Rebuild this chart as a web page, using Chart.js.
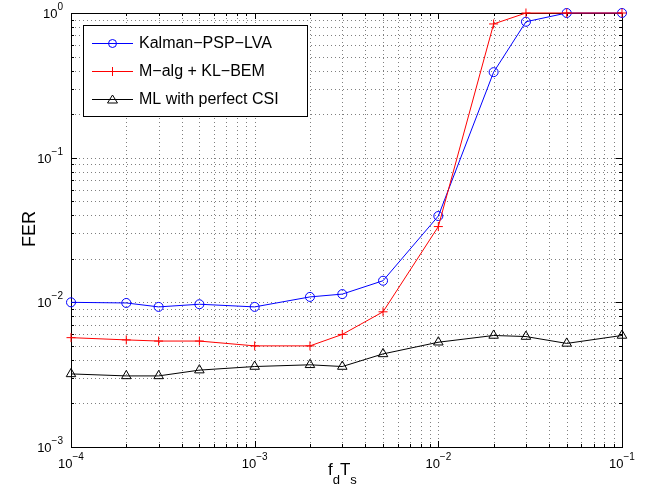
<!DOCTYPE html>
<html>
<head>
<meta charset="utf-8">
<script src="https://cdn.jsdelivr.net/npm/chart.js@4/dist/chart.umd.min.js"></script>
<style>
  html, body { margin: 0; padding: 0; background: #fff; }
  #wrap { width: 652px; height: 500px; }
</style>
</head>
<body>
<div id="wrap"><canvas id="fer"></canvas></div>
<script>
// normalized Doppler f_d*T_s
const fdTs = [1e-4, 2e-4, 3e-4, 5e-4, 1e-3, 2e-3, 3e-3, 5e-3, 1e-2, 2e-2, 3e-2, 5e-2, 1e-1];

const kalmanFER = [0.0100, 0.0099, 0.0093, 0.0097, 0.0093, 0.0109, 0.0114, 0.0141, 0.0395, 0.39, 0.87, 1.0, 1.0];
const malgFER   = [0.0057, 0.0055, 0.0054, 0.0054, 0.0050, 0.0050, 0.0060, 0.0086, 0.0334, 0.84, 1.0, 1.0, 1.0];
const mlFER     = [0.0032, 0.0031, 0.0031, 0.0034, 0.0036, 0.0037, 0.0036, 0.0044, 0.0053, 0.0059, 0.0058, 0.0052, 0.0059];

const seriesNames = ['Kalman\u2212PSP\u2212LVA', 'M\u2212alg + KL\u2212BEM', 'ML with perfect CSI'];

// decades and their labels (10^exp)
const xMajor = [1e-4, 1e-3, 1e-2, 1e-1];
const xExp = ['\u22124', '\u22123', '\u22122', '\u22121'];
const yMajor = [1e-3, 1e-2, 1e-1, 1];
const yExp = ['\u22123', '\u22122', '\u22121', '0'];
const minorSteps = [2, 3, 4, 5, 6, 7, 8, 9];

const withMinor = (majors) => {
    const out = [];
    majors.forEach((m, i) => {
        out.push(m);
        if (i < majors.length - 1) minorSteps.forEach(s => out.push(m * s));
    });
    return out;
};

const FONT = '"Liberation Sans", Arial, Helvetica, sans-serif';

const drawPow = (ctx, exp, x, y, align) => {
    ctx.font = '13px ' + FONT;
    const wb = ctx.measureText('10').width;
    ctx.font = '10px ' + FONT;
    const we = ctx.measureText(exp).width;
    const total = wb + we;
    const start = align === 'center' ? x - total / 2 : x - total;
    ctx.textAlign = 'left';
    ctx.textBaseline = 'alphabetic';
    ctx.font = '13px ' + FONT;
    ctx.fillText('10', start, y);
    ctx.font = '10px ' + FONT;
    ctx.fillText(exp, start + wb, y - 8);
};

const marker = (ctx, style, x, y, color) => {
    ctx.save();
    ctx.strokeStyle = color;
    ctx.lineWidth = 1;
    ctx.beginPath();
    if (style === 'circle') {
        ctx.arc(x, y, 4, 0, Math.PI * 2);
    } else if (style === 'cross') {
        ctx.moveTo(x - 4.5, y); ctx.lineTo(x + 4.5, y);
        ctx.moveTo(x, y - 4.5); ctx.lineTo(x, y + 4.5);
    } else {
        ctx.moveTo(x, y - 4.5); ctx.lineTo(x + 5, y + 3.5); ctx.lineTo(x - 5, y + 3.5); ctx.closePath();
    }
    ctx.stroke();
    ctx.restore();
};

const matlabAxes = {
    id: 'matlabAxes',
    beforeDatasetsDraw(chart) {
        const {ctx, chartArea: a, scales: {x, y}} = chart;
        ctx.save();
        // dotted grid
        ctx.strokeStyle = 'rgba(0,0,0,0.5)';
        ctx.lineWidth = 1;
        ctx.setLineDash([1, 3]);
        x.ticks.forEach(t => {
            const px = Math.round(x.getPixelForValue(t.value)) + 0.5;
            ctx.beginPath(); ctx.moveTo(px, a.bottom); ctx.lineTo(px, a.top); ctx.stroke();
        });
        y.ticks.forEach(t => {
            const py = Math.round(y.getPixelForValue(t.value)) + 0.5;
            ctx.beginPath(); ctx.moveTo(a.left, py); ctx.lineTo(a.right, py); ctx.stroke();
        });
        ctx.setLineDash([]);
        // inward ticks on all sides
        ctx.strokeStyle = '#000';
        x.ticks.forEach(t => {
            const len = xMajor.includes(t.value) ? 6 : 3;
            const px = Math.round(x.getPixelForValue(t.value)) + 0.5;
            ctx.beginPath();
            ctx.moveTo(px, a.bottom); ctx.lineTo(px, a.bottom - len);
            ctx.moveTo(px, a.top); ctx.lineTo(px, a.top + len);
            ctx.stroke();
        });
        y.ticks.forEach(t => {
            const len = yMajor.includes(t.value) ? 6 : 3;
            const py = Math.round(y.getPixelForValue(t.value)) + 0.5;
            ctx.beginPath();
            ctx.moveTo(a.left, py); ctx.lineTo(a.left + len, py);
            ctx.moveTo(a.right, py); ctx.lineTo(a.right - len, py);
            ctx.stroke();
        });
        // box
        ctx.lineWidth = 1;
        ctx.strokeRect(Math.round(a.left) + 0.5, Math.round(a.top) + 0.5,
            Math.round(a.right - a.left), Math.round(a.bottom - a.top));
        ctx.restore();
    },
    afterDatasetsDraw(chart) {
        const {ctx, chartArea: a, scales: {x, y}} = chart;
        ctx.save();
        ctx.fillStyle = '#000';
        // tick labels
        xMajor.forEach((v, i) => drawPow(ctx, xExp[i], x.getPixelForValue(v), a.bottom + 21, 'center'));
        yMajor.forEach((v, i) => drawPow(ctx, yExp[i], a.left - 8, y.getPixelForValue(v) + 5, 'right'));

        // axis titles
        ctx.textAlign = 'left';
        ctx.textBaseline = 'alphabetic';
        let cx = 328;
        const parts = [['f', 17, 0], ['d', 13, 9], ['T', 17, 0], ['s', 13, 9]];
        parts.forEach(([s, size, drop]) => {
            ctx.font = size + 'px ' + FONT;
            ctx.fillText(s, cx, 475 + drop);
            cx += ctx.measureText(s).width;
        });
        ctx.save();
        ctx.translate(35, 229);
        ctx.rotate(-Math.PI / 2);
        ctx.textAlign = 'center';
        ctx.font = '18px ' + FONT;
        ctx.fillText('FER', 0, 0);
        ctx.restore();

        // legend
        ctx.fillStyle = '#fff';
        ctx.fillRect(83.5, 25.5, 224, 91);
        ctx.strokeStyle = '#000';
        ctx.lineWidth = 1;
        ctx.strokeRect(83.5, 25.5, 224, 91);
        const ds = chart.data.datasets;
        const rows = [43, 71, 99];
        ds.forEach((d, i) => {
            const ry = rows[i] + 0.5;
            ctx.strokeStyle = d.borderColor;
            ctx.beginPath(); ctx.moveTo(92, ry); ctx.lineTo(133, ry); ctx.stroke();
            marker(ctx, d.pointStyle, 112.5, ry, d.borderColor);
            ctx.fillStyle = '#000';
            ctx.font = '16px ' + FONT;
            ctx.textBaseline = 'middle';
            ctx.fillText(d.label, 139, rows[i] + 1);
        });
        ctx.restore();
    }
};

new Chart(document.getElementById('fer'), {
    type: 'line',
    data: {
        labels: fdTs,
        datasets: [
            {
                label: seriesNames[0],
                data: fdTs.map((v, i) => ({x: v, y: kalmanFER[i]})),
                borderColor: '#0000ff',
                pointStyle: 'circle',
                pointRadius: 4.5,
                order: 3
            },
            {
                label: seriesNames[1],
                data: fdTs.map((v, i) => ({x: v, y: malgFER[i]})),
                borderColor: '#ff0000',
                pointStyle: 'cross',
                pointRadius: 4.5,
                order: 2
            },
            {
                label: seriesNames[2],
                data: fdTs.map((v, i) => ({x: v, y: mlFER[i]})),
                borderColor: '#000000',
                pointStyle: 'triangle',
                pointRadius: 5.5,
                order: 1
            }
        ].map(d => ({
            ...d,
            borderWidth: 1,
            pointBorderColor: d.borderColor,
            pointBackgroundColor: 'rgba(0,0,0,0)',
            pointBorderWidth: 1,
            tension: 0,
            clip: false
        }))
    },
    options: {
        responsive: true,
        maintainAspectRatio: false,
        animation: false,
        layout: {padding: {left: 71, right: 30, top: 13, bottom: 53}},
        scales: {
            x: {
                type: 'logarithmic',
                min: 1e-4,
                max: 1e-1,
                afterBuildTicks: s => { s.ticks = withMinor(xMajor).map(v => ({value: v})); },
                ticks: {display: false},
                grid: {display: false, drawTicks: false},
                border: {display: false}
            },
            y: {
                type: 'logarithmic',
                min: 1e-3,
                max: 1,
                afterBuildTicks: s => { s.ticks = withMinor(yMajor).map(v => ({value: v})); },
                ticks: {display: false},
                grid: {display: false, drawTicks: false},
                border: {display: false}
            }
        },
        plugins: {
            legend: {display: false},
            tooltip: {enabled: false},
            title: {display: false}
        }
    },
    plugins: [matlabAxes]
});
</script>
</body>
</html>
